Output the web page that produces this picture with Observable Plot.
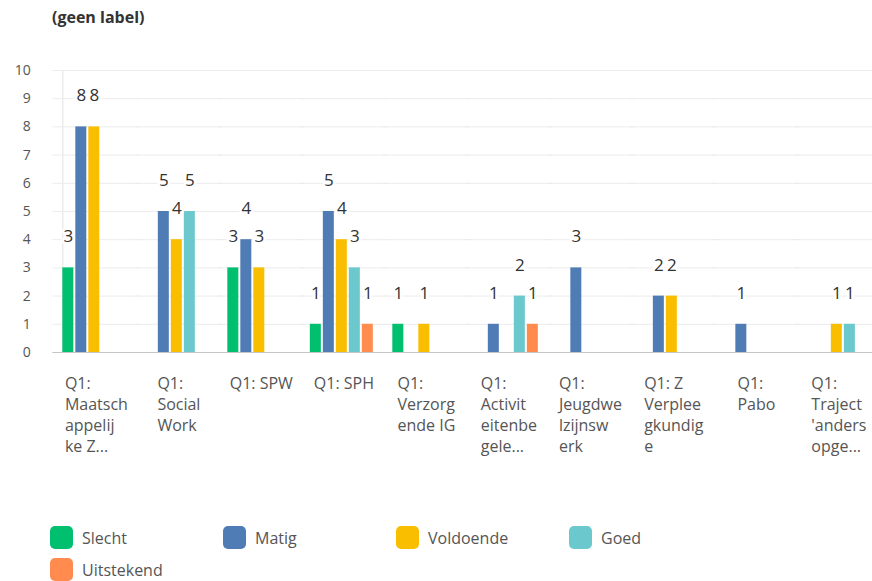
<!DOCTYPE html>
<html>
<head>
<meta charset="utf-8">
<script src="https://cdn.jsdelivr.net/npm/d3@7"></script>
<script src="https://cdn.jsdelivr.net/npm/@observablehq/plot@0.6"></script>
<style>
  html, body { margin: 0; padding: 0; background: #fff; width: 872px; height: 581px; overflow: hidden; position: relative; font-family: "Open Sans", sans-serif; }
  #title { position: absolute; left: 52px; top: 6px; height: 22px; line-height: 22px; font-size: 16px; font-weight: bold; color: #333; }
  #chart { position: absolute; left: 0; top: 40px; }
  #legend { position: absolute; left: 50px; top: 526px; width: 760px; display: flex; flex-wrap: wrap; row-gap: 9px; }
  .item { width: 173px; height: 23px; display: flex; align-items: center; font-size: 16px; color: #555; }
  .sw { width: 23px; height: 23px; border-radius: 5px; margin-right: 9px; flex: none; }
</style>
</head>
<body>
<div id="title">(geen label)</div>
<div id="chart"></div>
<div id="legend"></div>
<script>
const categories = [
  "Q1: Maatschappelijke Z...", "Q1: Social Work", "Q1: SPW", "Q1: SPH", "Q1: Verzorgende IG",
  "Q1: Activiteitenbegele...", "Q1: Jeugdwelzijnswerk", "Q1: Z Verpleegkundige", "Q1: Pabo", "Q1: Traject 'anders opge..."
];
const tickLabels = [
  "Q1:\nMaatsch\nappelij\nke Z...", "Q1:\nSocial\nWork", "Q1: SPW", "Q1: SPH", "Q1:\nVerzorg\nende IG",
  "Q1:\nActivit\neitenbe\ngele...", "Q1:\nJeugdwe\nlzijnsw\nerk", "Q1: Z\nVerplee\ngkundig\ne", "Q1:\nPabo", "Q1:\nTraject\n'anders\nopge..."
];
const seriesNames = ["Slecht", "Matig", "Voldoende", "Goed", "Uitstekend"];
const seriesColors = ["#00bf6f", "#507cb6", "#f9be00", "#6bc8cd", "#ff8b4f"];
const slecht     = [3, 0, 3, 1, 1, 0, 0, 0, 0, 0];
const matig      = [8, 5, 4, 5, 0, 1, 3, 2, 1, 0];
const voldoende  = [8, 4, 3, 4, 1, 0, 0, 2, 0, 1];
const goed       = [0, 5, 0, 3, 0, 2, 0, 0, 0, 1];
const uitstekend = [0, 0, 0, 1, 0, 1, 0, 0, 0, 0];
const yTicks = [0, 1, 2, 3, 4, 5, 6, 7, 8, 9, 10];

const seriesValues = [slecht, matig, voldoende, goed, uitstekend];
const rows = [];
categories.forEach((c, i) => {
  seriesNames.forEach((s, j) => {
    const v = seriesValues[j][i];
    if (v > 0) rows.push({category: c, series: s, value: v});
  });
});

const chart = Plot.plot({
  width: 872,
  height: 432,
  marginTop: 30,
  marginLeft: 52,
  marginRight: 0,
  marginBottom: 120,
  style: {fontFamily: "'Open Sans', sans-serif", fontSize: "14px", background: "white", color: "#555"},
  fx: {domain: categories, paddingInner: 0.186, paddingOuter: 0.0625, align: 1, round: false, label: null},
  x: {domain: seriesNames, paddingInner: 0.14, paddingOuter: 0, align: 0, axis: null},
  y: {domain: [0, 10]},
  color: {domain: seriesNames, range: seriesColors},
  marks: [
    Plot.frame({facet: "super", stroke: "#e2e2e2", insetRight: -4}),
    Plot.ruleY(yTicks.filter(d => d > 0), {stroke: "#ececec", insetLeft: -10, insetRight: -10}),
    Plot.ruleY([0], {stroke: "#c4c4c4", insetLeft: -10, insetRight: -10}),
    Plot.axisY({ticks: yTicks, tickSize: 0, tickPadding: 32, label: null, fill: "#555", fontSize: 14}),
    Plot.barY(rows, {fx: "category", x: "series", y: "value", fill: "series"}),
    Plot.text(rows, {fx: "category", x: "series", y: "value", text: d => String(d.value), dy: -31, fill: "#333", stroke: "white", strokeWidth: 5, fontSize: 17}),
    Plot.axisFx({anchor: "bottom", tickSize: 0, tickPadding: 21, label: null, fontSize: 16, lineHeight: 1.33, fill: "#555",
      tickFormat: d => tickLabels[categories.indexOf(d)]})
  ]
});
document.getElementById("chart").appendChild(chart);

// left-align lines inside each category label block, keeping the block centred on its group
let labelTexts = chart.querySelectorAll('g[aria-label="fx-axis tick label"] text');
if (!labelTexts.length) labelTexts = chart.querySelectorAll('g[aria-label*="fx-axis"] text');
labelTexts.forEach(t => {
  t.setAttribute("text-anchor", "start");
  const w = t.getBBox().width;
  const tr = t.getAttribute("transform") || "";
  t.setAttribute("transform", tr + ` translate(${-w / 2},0)`);
});

const legend = document.getElementById("legend");
seriesNames.forEach((s, i) => {
  const item = document.createElement("div");
  item.className = "item";
  const sw = document.createElement("span");
  sw.className = "sw";
  sw.style.background = seriesColors[i];
  item.appendChild(sw);
  item.appendChild(document.createTextNode(s));
  legend.appendChild(item);
});
</script>
</body>
</html>
